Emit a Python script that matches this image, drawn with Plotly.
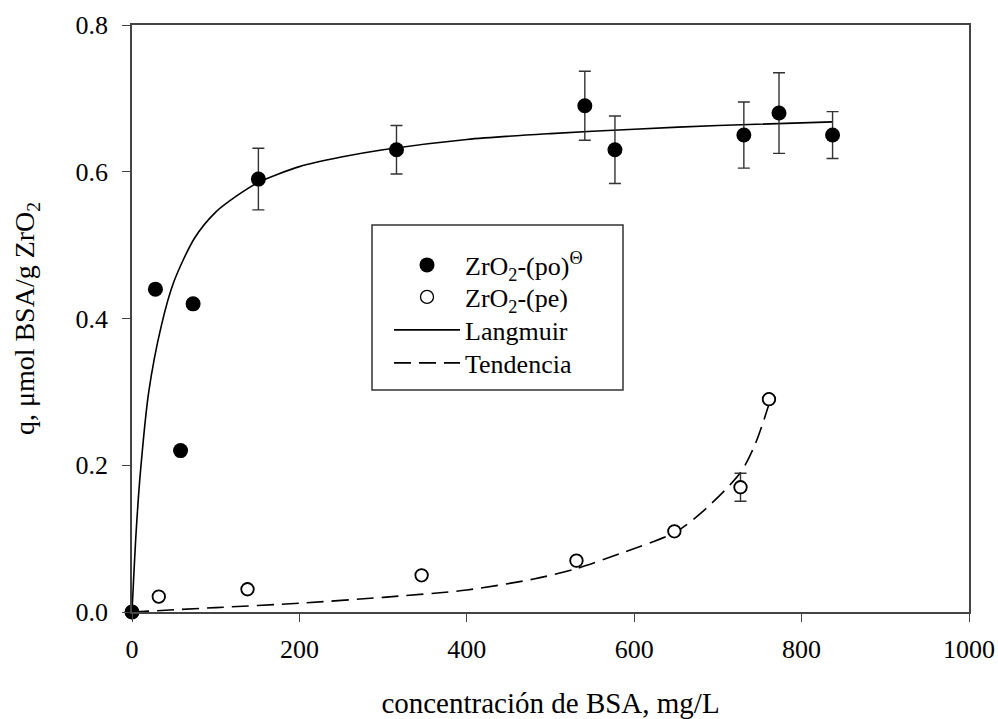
import plotly.graph_objects as go

# ZrO2-(po) data
po_x = [0, 28, 58, 73, 151, 316, 541, 577, 731, 773, 837]
po_y = [0.0, 0.44, 0.22, 0.42, 0.59, 0.63, 0.69, 0.63, 0.65, 0.68, 0.65]
po_err = [0, 0, 0, 0, 0.042, 0.033, 0.047, 0.046, 0.045, 0.055, 0.032]

# ZrO2-(pe) data
pe_x = [0, 32, 138, 346, 531, 648, 727, 761]
pe_y = [0.0, 0.021, 0.031, 0.050, 0.070, 0.110, 0.170, 0.290]
pe_err = [0, 0, 0, 0, 0, 0, 0.019, 0]

# Langmuir curve
lang_x = [0, 5, 10, 20, 35, 50, 75, 100, 125, 150, 175, 200, 250, 300, 400, 500, 600, 700, 837]
lang_y = [0.0, 0.11, 0.19, 0.30, 0.39, 0.45, 0.51, 0.545, 0.567, 0.585, 0.597, 0.607, 0.620,
          0.630, 0.644, 0.652, 0.658, 0.663, 0.668]

# Trend curve
tend_x = [0, 100, 200, 300, 400, 480, 531, 584, 648, 680, 727, 745, 761]
tend_y = [0.0, 0.006, 0.012, 0.020, 0.030, 0.045, 0.059, 0.080, 0.108, 0.135,
          0.190, 0.230, 0.283]

x_ticks = [0, 200, 400, 600, 800, 1000]
y_ticks = [0.0, 0.2, 0.4, 0.6, 0.8]

FONT = "Liberation Serif"

# plot area in page pixels
PL, PR, PT, PB = 132, 969, 25, 612
W, H = 998, 719


def px_x(px):
    return (px - PL) / (PR - PL)


def px_y(py):
    return (PB - py) / (PB - PT)


fig = go.Figure()

fig.add_trace(go.Scatter(
    x=lang_x, y=lang_y, mode="lines", name="Langmuir",
    line=dict(color="black", width=1.6, shape="spline", smoothing=0.8),
    legend="legend3", cliponaxis=False))

fig.add_trace(go.Scatter(
    x=tend_x, y=tend_y, mode="lines", name="Tendencia",
    line=dict(color="black", width=1.6, dash="17px,8px", shape="spline", smoothing=0.8),
    legend="legend4", cliponaxis=False))

fig.add_trace(go.Scatter(
    x=pe_x, y=pe_y, mode="markers", name="ZrO<sub>2</sub>-(pe)",
    marker=dict(symbol="circle-open", size=13, color="black", line=dict(width=1.3, color="black")),
    error_y=dict(type="data", array=pe_err, visible=True, color="#333", thickness=1.4, width=6),
    legend="legend2", cliponaxis=False))

# white fill under open circles
fig.add_trace(go.Scatter(
    x=pe_x, y=pe_y, mode="markers", showlegend=False, hoverinfo="skip",
    marker=dict(symbol="circle", size=12, color="white", line=dict(width=1.3, color="black")),
    cliponaxis=False))

fig.add_trace(go.Scatter(
    x=po_x, y=po_y, mode="markers", name="ZrO<sub>2</sub>-(po)<sup>Θ</sup>",
    marker=dict(symbol="circle", size=15, color="black"),
    error_y=dict(type="data", array=po_err, visible=True, color="#333", thickness=1.4, width=6),
    legend="legend", cliponaxis=False))

# legend frame
fig.add_shape(type="rect", xref="paper", yref="paper",
              x0=px_x(372), x1=px_x(623), y0=px_y(390), y1=px_y(225),
              line=dict(color="#333", width=1.5), fillcolor="rgba(0,0,0,0)", layer="above")

legend_rows = [265, 297, 330, 363]


def leg(py):
    return dict(x=px_x(389), y=px_y(py), xanchor="left", yanchor="middle",
                borderwidth=0, bgcolor="rgba(0,0,0,0)",
                font=dict(family=FONT, size=26, color="black"),
                itemwidth=66)


fig.update_layout(
    width=W, height=H,
    margin=dict(l=PL, r=W - PR, t=PT, b=H - PB, autoexpand=False),
    paper_bgcolor="white", plot_bgcolor="white",
    font=dict(family=FONT, size=26, color="black"),
    showlegend=True,
    legend=leg(legend_rows[0]),
    legend2=leg(legend_rows[1]),
    legend3=leg(legend_rows[2]),
    legend4=leg(legend_rows[3]),
)

fig.update_xaxes(
    range=[0, 1000], tickvals=x_ticks, ticktext=[str(v) for v in x_ticks],
    showgrid=False, zeroline=False, automargin=False,
    showline=True, linecolor="#444", linewidth=1.5, mirror=True,
    ticks="outside", ticklen=8, tickcolor="#444", tickwidth=1.2,
    ticklabelstandoff=5,
    title=dict(text="concentración de BSA, mg/L", font=dict(family=FONT, size=29), standoff=30),
)
fig.update_yaxes(
    range=[0, 0.8], tickvals=y_ticks, ticktext=[f"{v:.1f}" for v in y_ticks],
    showgrid=False, zeroline=False, automargin=False,
    showline=True, linecolor="#444", linewidth=1.5, mirror=True,
    ticks="outside", ticklen=8, tickcolor="#444", tickwidth=1.2,
    ticklabelstandoff=9,
    title=dict(text="q, μmol BSA/g ZrO<sub>2</sub>", font=dict(family=FONT, size=28), standoff=33),
)

fig.write_html("out.html",
               config={"displayModeBar": False},
               post_script="document.body.style.margin='0px';document.body.style.overflow='hidden';")
